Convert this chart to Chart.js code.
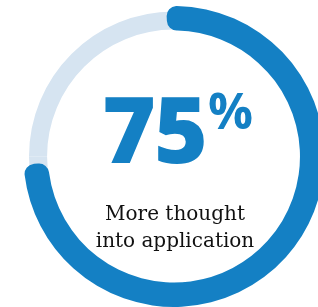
<!DOCTYPE html>
<html>
<head>
<meta charset="utf-8">
<script src="https://cdn.jsdelivr.net/npm/chart.js@4.4.0/dist/chart.umd.min.js"></script>
<style>
	html, body {
		margin: 0;
		padding: 0;
		width: 318px;
		height: 307px;
		overflow: hidden;
		background: #fff;
	}
	#wrap {
		position: relative;
		width: 318px;
		height: 307px;
	}
	canvas {
		position: absolute;
		left: 0;
		top: 0;
	}
	#big {
		position: absolute;
		left: 0;
		width: 355px;
		top: 50px;
		text-align: center;
		font-family: "Open Sans", sans-serif;
		font-style: normal;
		font-weight: 800;
		color: #1480c4;
		font-size: 92px;
		line-height: 120px;
		letter-spacing: -2px;
		white-space: nowrap;
	}
	#big .pct {
		font-size: 50px;
		font-weight: 700;
		vertical-align: 34px;
		margin-left: 2px;
		letter-spacing: 0;
	}
	#caption {
		position: absolute;
		left: 0;
		width: 350px;
		top: 200px;
		text-align: center;
		font-family: "DejaVu Serif", serif;
		font-size: 20px;
		line-height: 27px;
		color: #111;
	}
</style>
</head>
<body>
<div id="wrap">
	<canvas id="track" width="348" height="313"></canvas>
	<canvas id="ring" width="348" height="313"></canvas>
	<div id="big">75<span class="pct">%</span></div>
	<div id="caption">More thought<br>into application</div>
</div>
<script>
const labels = ["More thought into application", "Other"];
const values = [75, 25];

const blue = "#1480c4";
const pale = "#d6e4f1";

// thin pale track behind the arc
new Chart(document.getElementById("track"), {
	type: "doughnut",
	data: {
		labels: labels,
		datasets: [
			{
				data: values,
				backgroundColor: [pale, pale],
				borderWidth: 0,
			},
		],
	},
	options: {
		responsive: false,
		animation: false,
		radius: 145,
		cutout: 137,
		plugins: { legend: { display: false }, tooltip: { enabled: false } },
	},
});

// the thick rounded blue arc
new Chart(document.getElementById("ring"), {
	type: "doughnut",
	data: {
		labels: labels,
		datasets: [
			{
				data: values,
				backgroundColor: [blue, "rgba(0,0,0,0)"],
				borderWidth: 0,
				borderRadius: [10, 0],
			},
		],
	},
	options: {
		responsive: false,
		animation: false,
		rotation: -3,
		radius: 150.5,
		cutout: 131,
		plugins: { legend: { display: false }, tooltip: { enabled: false } },
	},
});
</script>
</body>
</html>
